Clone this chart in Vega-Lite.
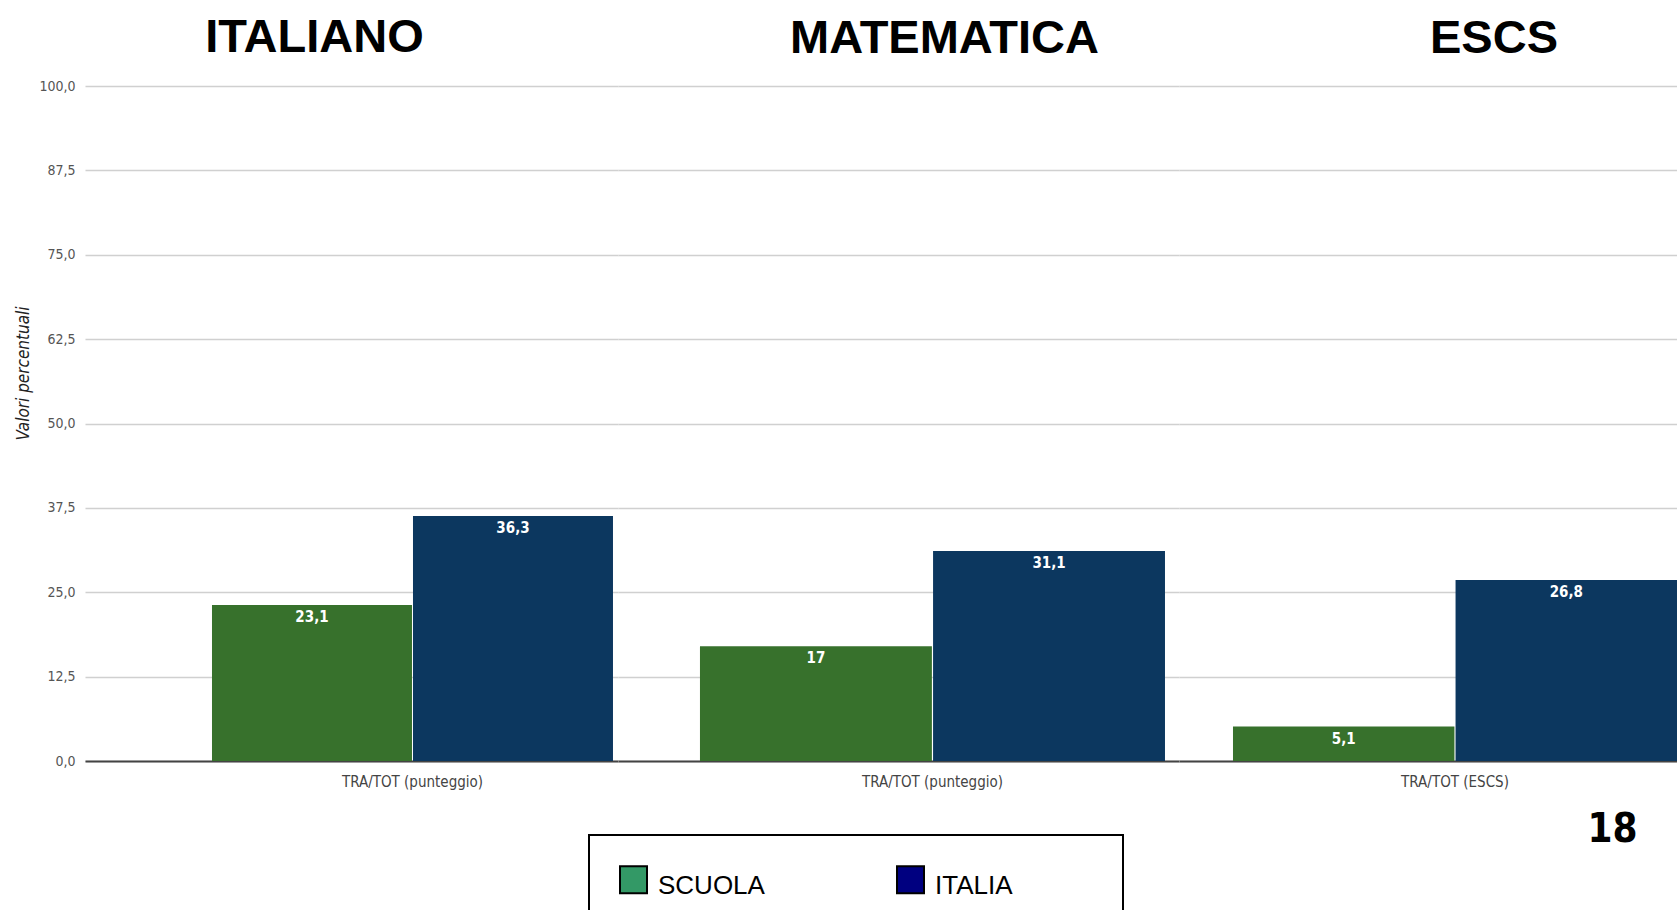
{
  "$schema": "https://vega.github.io/schema/vega-lite/v6.json",
  "autosize": {"type": "pad"},
  "padding": {"left": 14, "top": 14, "right": 0, "bottom": 0},
  "background": "white",
  "spacing": 0,
  "bounds": "flush",
  "resolve": {"scale": {"x": "independent", "xOffset": "independent", "y": "shared"}},
  "config": {
    "view": {"stroke": null},
    "font": "Liberation Sans Narrow, DejaVu Sans Condensed, sans-serif",
    "title": {"font": "Liberation Sans", "fontSize": 47, "fontWeight": "bold", "color": "black", "baseline": "alphabetic", "anchor": "middle"},
    "axis": {"labelFont": "Liberation Sans Narrow, DejaVu Sans Condensed, sans-serif", "titleFont": "Liberation Sans Narrow, DejaVu Sans Condensed, sans-serif"}
  },
  "data": {
    "values": [
      {"materia": "ITALIANO", "indicatore": "TRA/TOT (punteggio)", "gruppo": "SCUOLA", "valore": 23.1},
      {"materia": "ITALIANO", "indicatore": "TRA/TOT (punteggio)", "gruppo": "ITALIA", "valore": 36.3},
      {"materia": "MATEMATICA", "indicatore": "TRA/TOT (punteggio)", "gruppo": "SCUOLA", "valore": 17},
      {"materia": "MATEMATICA", "indicatore": "TRA/TOT (punteggio)", "gruppo": "ITALIA", "valore": 31.1},
      {"materia": "ESCS", "indicatore": "TRA/TOT (ESCS)", "gruppo": "SCUOLA", "valore": 5.1},
      {"materia": "ESCS", "indicatore": "TRA/TOT (ESCS)", "gruppo": "ITALIA", "valore": 26.8}
    ]
  },
  "hconcat": [
    {
      "width": 533, "height": 675,
      "title": {"text": "ITALIANO", "dx": -37, "offset": 17},
      "transform": [
        {"filter": "datum.materia === 'ITALIANO'"},
        {"calculate": "replace(toString(datum.valore), '.', ',')", "as": "etichetta"}
      ],
      "encoding": {
        "x": {"field": "indicatore", "type": "nominal", "scale": {"paddingInner": 0, "paddingOuter": 0.1646, "align": 0.962},
          "axis": {"title": null, "labelAngle": 0, "ticks": false, "domainColor": "#444", "domainWidth": 2, "labelPadding": 13, "labelFontSize": 15, "labelColor": "#444"}},
        "xOffset": {"field": "gruppo", "type": "nominal", "scale": {"domain": ["SCUOLA", "ITALIA"], "paddingInner": 0.005, "paddingOuter": 0}},
        "y": {"field": "valore", "type": "quantitative", "scale": {"domain": [0, 100]},
          "axis": {"title": "Valori percentuali", "values": [0, 12.5, 25, 37.5, 50, 62.5, 75, 87.5, 100], "labelExpr": "replace(format(datum.value, '.1f'), '.', ',')", "domain": false, "ticks": false, "labelPadding": 10, "labelFontSize": 14, "labelColor": "#555", "gridColor": "#d0d0d0", "gridWidth": 1.5, "titleFontStyle": "italic", "titleFontWeight": "normal", "titleFontSize": 17, "titleColor": "#222", "titleY": 287, "titlePadding": 6}}
      },
      "layer": [
        {"mark": {"type": "bar"},
          "encoding": {"fill": {"field": "gruppo", "type": "nominal", "sort": ["SCUOLA", "ITALIA"], "scale": {"range": ["#37712C", "#0C375F"]}, "legend": null}}},
        {"mark": {"type": "square", "opacity": 0},
          "encoding": {"color": {"field": "gruppo", "type": "nominal", "scale": {"domain": ["SCUOLA", "ITALIA"], "range": ["#339966", "#000080"]},
            "legend": {"title": null, "orient": "none", "legendX": 504, "legendY": 749, "direction": "horizontal", "symbolType": "square", "symbolSize": 729, "symbolStrokeColor": "black", "symbolStrokeWidth": 2, "symbolOpacity": 1, "labelFontSize": 26, "labelFont": "Liberation Sans", "labelColor": "black", "labelOffset": 10, "labelLimit": 400, "columnPadding": 128, "padding": 30, "strokeColor": "black", "fillColor": "white",
              "labelExpr": "datum.label == 'ITALIA' ? datum.label + '\u00a0\u00a0\u00a0\u00a0\u00a0\u00a0\u00a0\u00a0\u00a0\u00a0\u00a0\u200b' : datum.label",
              "encode": {"legend": {"update": {"strokeWidth": {"value": 2}}}, "labels": {"update": {"dy": {"value": 6}}}}}}}},
        {"mark": {"type": "text", "baseline": "top", "dy": 5, "color": "white", "fontWeight": "bold", "fontSize": 15},
          "encoding": {"text": {"field": "etichetta"}}}
      ]
    },
    {
      "width": 561, "height": 675,
      "title": {"text": "MATEMATICA", "dx": 46, "offset": 23},
      "transform": [
        {"filter": "datum.materia === 'MATEMATICA'"},
        {"calculate": "replace(toString(datum.valore), '.', ',')", "as": "etichetta"}
      ],
      "encoding": {
        "x": {"field": "indicatore", "type": "nominal", "scale": {"paddingInner": 0, "paddingOuter": 0.1032, "align": 0.854},
          "axis": {"title": null, "labelAngle": 0, "ticks": false, "domainColor": "#444", "domainWidth": 2, "labelPadding": 13, "labelFontSize": 15, "labelColor": "#444"}},
        "xOffset": {"field": "gruppo", "type": "nominal", "scale": {"domain": ["SCUOLA", "ITALIA"], "paddingInner": 0.005, "paddingOuter": 0}},
        "y": {"field": "valore", "type": "quantitative", "scale": {"domain": [0, 100]},
          "axis": {"title": null, "labels": false, "domain": false, "ticks": false, "values": [0, 12.5, 25, 37.5, 50, 62.5, 75, 87.5, 100], "gridColor": "#d0d0d0", "gridWidth": 1.5}}
      },
      "layer": [
        {"mark": {"type": "bar"},
          "encoding": {"fill": {"field": "gruppo", "type": "nominal", "sort": ["SCUOLA", "ITALIA"], "scale": {"range": ["#37712C", "#0C375F"]}, "legend": null}}},
        {"mark": {"type": "text", "baseline": "top", "dy": 5, "color": "white", "fontWeight": "bold", "fontSize": 15},
          "encoding": {"text": {"field": "etichetta"}}}
      ]
    },
    {
      "width": 498, "height": 675,
      "title": {"text": "ESCS", "dx": 66, "offset": 23},
      "transform": [
        {"filter": "datum.materia === 'ESCS'"},
        {"calculate": "replace(toString(datum.valore), '.', ',')", "as": "etichetta"}
      ],
      "encoding": {
        "x": {"field": "indicatore", "type": "nominal", "scale": {"paddingInner": 0, "paddingOuter": 0.0608, "align": 1},
          "axis": {"title": "18", "titleFontSize": 40, "titleFontWeight": "bold", "titleFont": "Liberation Sans Narrow, DejaVu Sans Condensed, sans-serif", "titleColor": "black", "titleX": 458, "titleY": 80, "titleAlign": "right", "titleBaseline": "alphabetic", "labelAngle": 0, "ticks": false, "domainColor": "#444", "domainWidth": 2, "labelPadding": 13, "labelFontSize": 15, "labelColor": "#444"}},
        "xOffset": {"field": "gruppo", "type": "nominal", "scale": {"domain": ["SCUOLA", "ITALIA"], "paddingInner": 0.005, "paddingOuter": 0}},
        "y": {"field": "valore", "type": "quantitative", "scale": {"domain": [0, 100]},
          "axis": {"title": null, "labels": false, "domain": false, "ticks": false, "values": [0, 12.5, 25, 37.5, 50, 62.5, 75, 87.5, 100], "gridColor": "#d0d0d0", "gridWidth": 1.5}}
      },
      "layer": [
        {"mark": {"type": "bar"},
          "encoding": {"fill": {"field": "gruppo", "type": "nominal", "sort": ["SCUOLA", "ITALIA"], "scale": {"range": ["#37712C", "#0C375F"]}, "legend": null}}},
        {"mark": {"type": "text", "baseline": "top", "dy": 5, "color": "white", "fontWeight": "bold", "fontSize": 15},
          "encoding": {"text": {"field": "etichetta"}}}
      ]
    }
  ]
}
